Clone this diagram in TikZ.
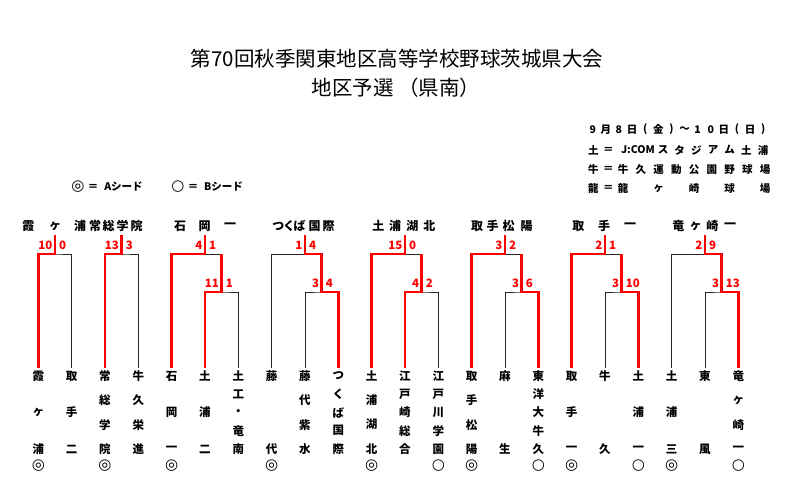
\documentclass[tikz,border=0pt]{standalone}
\usepackage{fontspec}
\newfontfamily\jp{Noto Sans CJK JP}
\newfontfamily\dv{DejaVu Sans}
\usetikzlibrary{calc}
\begin{document}
\begin{tikzpicture}[x=1pt,y=-1pt,
  blk/.style={draw=black!85,line width=0.9pt},
  win/.style={draw=red,line width=2.6pt,line join=miter},
  sc/.style={text=red,font=\jp\bfseries\fontsize{11.5}{11.5}\selectfont,inner sep=0pt},
  lf/.style={font=\jp\bfseries\fontsize{11.5}{11.5}\selectfont,inner sep=0pt},
  sd/.style={font=\dv\bfseries\fontsize{15}{15}\selectfont,inner sep=0pt},
  bt/.style={font=\jp\bfseries\fontsize{12}{12}\selectfont,inner sep=0pt},
  hd/.style={font=\jp\bfseries\fontsize{10.5}{10.5}\selectfont,inner sep=0pt},
  ttl/.style={font=\jp\fontsize{20.5}{20.5}\selectfont,inner sep=0pt}]
\useasboundingbox[fill=white] (0,0) rectangle (800,499);
% titles
\node[ttl] (title1) at (397,59) {第70回秋季関東地区高等学校野球茨城県大会};
\node[ttl] (title2) at (396,88) {地区予選 （県南）};
% header
\foreach \x/\ch [count=\i] in {592.7/9,605.8/月,618.9/8,632/日,645.2/(,658.3/金,671.4/),684.5/～,697.6/1,710.7/0,723.8/日,737/(,750.1/日,763.2/)}
  \node[hd] (ha\i) at (\x,129.5) {\ch};
\foreach \x/\ch [count=\i] in {593.3/土,608.3/＝,638/J:COM,663/ス,679.7/タ,696.3/ジ,713/ア,729.7/ム,746.3/土,763/浦}
  \node[hd] (hb\i) at (\x,150) {\ch};
\foreach \x/\ch [count=\i] in {593.3/牛,608.3/＝,623/牛,640.75/久,658.5/運,676.25/動,694/公,711.75/園,729.5/野,747.25/球,765/場}
  \node[hd] (hc\i) at (\x,169.3) {\ch};
\foreach \x/\ch [count=\i] in {593.3/龍,608.3/＝,623/龍,658.5/ヶ,694/崎,729.5/球,765/場}
  \node[hd] (hd\i) at (\x,188.3) {\ch};
% legend
\node[sd] (lg1) at (78,187) {◎};
\node[hd] (lg2) at (93,187) {＝};
\node[hd] (lg3) at (123.5,187) {Aシード};
\node[sd] (lg4) at (178,187) {○};
\node[hd] (lg5) at (193,187) {＝};
\node[hd] (lg6) at (223.5,187) {Bシード};
% block titles
\foreach \x/\ch [count=\i] in {28.3/霞,55/ヶ,80/浦,95/常,108.7/総,122.7/学,136.7/院,180/石,204.5/岡,230/一,278.3/つ,289/く,299.5/ば,314.5/国,328.5/際,378.3/土,395/浦,412.3/湖,429.3/北,477/取,492.5/手,508.7/松,526.7/陽,578.3/取,604/手,630/一,678.3/竜,695.7/ヶ,712.3/崎,730/一}
  \node[bt] (bt\i) at (\x,226) {\ch};
% leaf coordinates
\foreach \k in {0,...,21} \coordinate (T\k) at ({38.33+33.333*\k},368);
% leaves
\newcommand\leafcol[3]{\foreach \ch [count=\i] in {#3} {\node[lf] (L#1-\i) at ({38.33+33.333*#1},{376+(\i-1)*73/(#2-1)}) {\ch};}}
\leafcol{0}{3}{霞,ヶ,浦}
\leafcol{1}{3}{取,手,二}
\leafcol{2}{4}{常,総,学,院}
\leafcol{3}{4}{牛,久,栄,進}
\leafcol{4}{3}{石,岡,一}
\leafcol{5}{3}{土,浦,二}
\leafcol{6}{5}{土,工,・,竜,南}
\leafcol{7}{2}{藤,代}
\leafcol{8}{4}{藤,代,紫,水}
\leafcol{9}{5}{つ,く,ば,国,際}
\leafcol{10}{4}{土,浦,湖,北}
\leafcol{11}{5}{江,戸,崎,総,合}
\leafcol{12}{5}{江,戸,川,学,園}
\leafcol{13}{4}{取,手,松,陽}
\leafcol{14}{2}{麻,生}
\leafcol{15}{5}{東,洋,大,牛,久}
\leafcol{16}{3}{取,手,一}
\leafcol{17}{2}{牛,久}
\leafcol{18}{3}{土,浦,一}
\leafcol{19}{3}{土,浦,三}
\leafcol{20}{2}{東,風}
\leafcol{21}{4}{竜,ヶ,崎,一}
\foreach \k in {0,2,4,7,10,13,16,19} \node[sd] (S\k) at ({38.33+33.333*\k},466) {◎};
\foreach \k in {12,15,18,21} \node[sd] (S\k) at ({38.33+33.333*\k},466) {○};
% junctions
\coordinate (j1) at (55,254); \coordinate (r1) at (55,235);
\coordinate (j2) at (121.7,254); \coordinate (r2) at (121.7,235);
\foreach \b/\s in {3/205,4/305,5/405,6/505,7/605,8/705}{
  \coordinate (j\b) at (\s,254); \coordinate (r\b) at (\s,235);
  \coordinate (k\b) at (\s+16.7,254); \coordinate (i\b) at (\s+16.7,292);
}
% black lines
\draw[blk] (T0) |- (j1) -| (T1); \draw[blk] (j1) -- (r1);
\draw[blk] (T2) |- (j2) -| (T3); \draw[blk] (j2) -- (r2);
\foreach \b/\a/\m/\c in {3/4/5/6,4/7/8/9,5/10/11/12,6/13/14/15,7/16/17/18,8/19/20/21}{
  \draw[blk] (T\a) |- (k\b) -- (i\b);
  \draw[blk] (T\m) |- (i\b) -| (T\c);
  \draw[blk] (j\b) -- (r\b);
}
% red lines
\draw[win] (T0) |- (j1) -- (r1);
\draw[win] (T2) |- (j2) -- (r2);
\draw[win] (T4) |- (j3) -- (r3);
\draw[win] (T5) |- (i3) -- (k3);
\draw[win] (T9) |- (i4) -- (k4) -- (j4) -- (r4);
\draw[win] (T10) |- (j5) -- (r5);
\draw[win] (T11) |- (i5) -- (k5);
\draw[win] (T13) |- (j6) -- (r6);
\draw[win] (T15) |- (i6) -- (k6);
\draw[win] (T16) |- (j7) -- (r7);
\draw[win] (T18) |- (i7) -- (k7);
\draw[win] (T21) |- (i8) -- (k8) -- (j8) -- (r8);
% scores
\foreach \s/\l/\r [count=\i] in {55/10/0,121.7/13/3,205/4/1,305/1/4,405/15/0,505/3/2,605/2/1,705/2/9}{
  \node[sc,anchor=east] (sl\i) at (\s-2.5,245) {\l};
  \node[sc,anchor=west] (sr\i) at (\s+4,245) {\r};
}
\foreach \s/\l/\r [count=\i] in {221.7/11/1,321.7/3/4,421.7/4/2,521.7/3/6,621.7/3/10,721.7/3/13}{
  \node[sc,anchor=east] (il\i) at (\s-2.5,283) {\l};
  \node[sc,anchor=west] (ir\i) at (\s+4,283) {\r};
}
\end{tikzpicture}
\end{document}
